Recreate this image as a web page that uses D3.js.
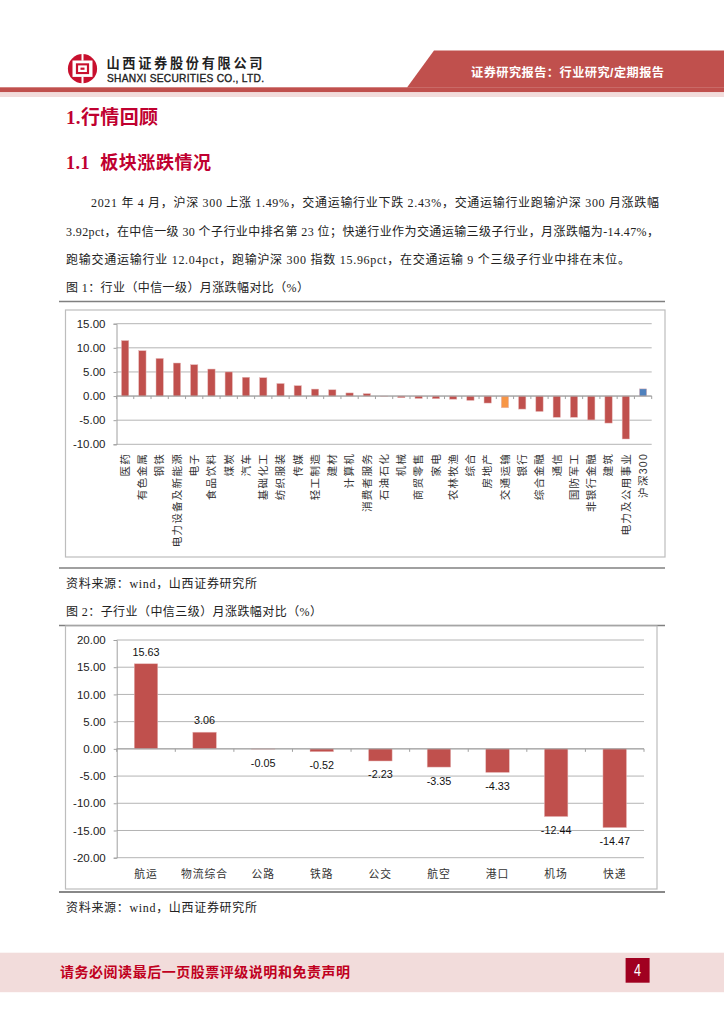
<!DOCTYPE html>
<html><head><meta charset="utf-8">
<script src="https://cdn.jsdelivr.net/npm/d3@7/dist/d3.min.js"></script>
<style>
html,body{margin:0;padding:0;background:#fff}
svg{display:block}
text{font-family:"Liberation Serif","Noto Sans CJK SC",serif}
.sans text,text.sans{font-family:"Liberation Sans","Noto Sans CJK SC",sans-serif}
</style></head><body>
<svg id="page" width="724" height="1024"></svg>
<script>
const industryNames = ["医药","有色金属","钢铁","电力设备及新能源","电子","食品饮料","煤炭","汽车","基础化工","纺织服装","传媒","轻工制造","建材","计算机","消费者服务","石油石化","机械","商贸零售","家电","农林牧渔","综合","房地产","交通运输","银行","综合金融","通信","国防军工","非银行金融","建筑","电力及公用事业","沪深300"];
const industryValues = [11.5,9.4,7.8,6.85,6.5,5.6,5.0,3.9,3.8,2.6,2.15,1.45,1.3,0.65,0.5,-0.05,-0.35,-0.5,-0.55,-0.65,-0.9,-1.45,-2.43,-2.7,-3.2,-4.4,-4.4,-4.95,-5.6,-8.9,1.49];
const industryTicks = [-10,-5,0,5,10,15];
const subNames = ["航运","物流综合","公路","铁路","公交","航空","港口","机场","快递"];
const subValues = [15.63,3.06,-0.05,-0.52,-2.23,-3.35,-4.33,-12.44,-14.47];
const subTicks = [-20,-15,-10,-5,0,5,10,15,20];
const bodyLines = ["2021 年 4 月，沪深 300 上涨 1.49%，交通运输行业下跌 2.43%，交通运输行业跑输沪深 300 月涨跌幅","3.92pct，在中信一级 30 个子行业中排名第 23 位；快递行业作为交通运输三级子行业，月涨跌幅为-14.47%，","跑输交通运输行业 12.04pct，跑输沪深 300 指数 15.96pct，在交通运输 9 个三级子行业中排在末位。"];

const RED="#c0504d", ORANGE="#f79646", BLUE="#4f81bd", TITLE="#c00030", LOGO="#c8102e";
const svg=d3.select("#page");
const fmt=v=>v.toFixed(2);

// ---- header
svg.append("rect").attr("x",0).attr("y",87.3).attr("width",724).attr("height",5).attr("fill",RED);
svg.append("rect").attr("x",0).attr("y",92.3).attr("width",724).attr("height",4.7).attr("fill","#f2dcdb");
svg.append("path").attr("d","M407,87.5 L434,50.5 H724 V87.5 Z").attr("fill",RED);
svg.append("text").attr("class","sans").attr("x",471).attr("y",77).attr("fill","#fff").attr("font-size",12.2).attr("font-weight",700).attr("textLength",193).attr("lengthAdjust","spacing").text("证券研究报告：行业研究/定期报告");
// logo
const logo=svg.append("g").attr("transform","translate(82.5,68.7)");
logo.append("circle").attr("r",14.6).attr("fill",LOGO);
logo.append("rect").attr("x",-10).attr("y",-8.2).attr("width",20).attr("height",16.4).attr("fill","#fff");
logo.append("rect").attr("x",-6.6).attr("y",-5.4).attr("width",13.2).attr("height",10.8).attr("fill",LOGO);
logo.append("rect").attr("x",-4.4).attr("y",-3.3).attr("width",8.8).attr("height",6.6).attr("fill","#fff");
logo.append("rect").attr("x",-2).attr("y",-1.1).attr("width",4).attr("height",2.2).attr("fill",LOGO);
logo.append("rect").attr("x",-1).attr("y",-15).attr("width",2).attr("height",7).attr("fill","#fff");
logo.append("rect").attr("x",-1).attr("y",8).attr("width",2).attr("height",7).attr("fill","#fff");
svg.append("text").attr("class","sans").attr("x",106.5).attr("y",68).attr("fill","#222").attr("font-size",13.2).attr("font-weight",700).attr("textLength",156).attr("lengthAdjust","spacing").text("山西证券股份有限公司");
svg.append("text").attr("class","sans").attr("x",107).attr("y",81.5).attr("fill","#222").attr("font-size",10.2).attr("stroke","#222").attr("stroke-width",.35).attr("textLength",157).text("SHANXI SECURITIES CO., LTD.");

// ---- headings and text
svg.append("text").attr("x",66).attr("y",124).attr("fill",TITLE).attr("font-size",19).attr("font-weight",700).attr("textLength",92).attr("lengthAdjust","spacing").text("1.行情回顾");
svg.append("text").attr("x",66).attr("y",169).attr("fill",TITLE).attr("font-size",18).attr("font-weight",700).attr("textLength",145).attr("xml:space","preserve").text("1.1  板块涨跌情况");
const bodyX=[91,66,66], bodyW=[568,593,564], bodyY=[206.5,236,263.5];
bodyLines.forEach((t,i)=>svg.append("text").attr("x",bodyX[i]).attr("y",bodyY[i]).attr("fill","#222").attr("font-size",12).attr("textLength",bodyW[i]).attr("lengthAdjust","spacing").text(t));
[["图 1：行业（中信一级）月涨跌幅对比（%）",66,292,243],["资料来源：wind，山西证券研究所",66,588,191],["图 2：子行业（中信三级）月涨跌幅对比（%）",66,616,256],["资料来源：wind，山西证券研究所",66,912,191]].forEach(c=>
  svg.append("text").attr("x",c[1]).attr("y",c[2]).attr("fill","#222").attr("font-size",12).attr("textLength",c[3]).attr("lengthAdjust","spacing").text(c[0]));
[[301.5,"#808080"],[568,"#808080"],[625.5,"#808080"],[892,"#606060"]].forEach(r=>
  svg.append("line").attr("x1",59).attr("x2",665).attr("y1",r[0]).attr("y2",r[0]).attr("stroke",r[1]).attr("stroke-width",1.3));

// ---- chart builder
function chart(o){
  const g=svg.append("g").attr("class","sans");
  g.append("rect").attr("x",o.box[0]).attr("y",o.box[1]).attr("width",o.box[2]-o.box[0]).attr("height",o.box[3]-o.box[1]).attr("fill","#fff").attr("stroke","#bdbdbd").attr("stroke-width",1.2);
  const x=d3.scaleBand().domain(o.names).range([o.left,o.right]);
  const y=d3.scaleLinear().domain(o.domain).range([o.bottom,o.top]);
  // grid
  g.append("g").selectAll("line").data(o.ticks).join("line")
    .attr("x1",o.left).attr("x2",o.right).attr("y1",d=>y(d)).attr("y2",d=>y(d)).attr("stroke","#b4b4b4").attr("stroke-width",1);
  // y axis
  const ya=g.append("g").attr("transform",`translate(${o.left},0)`).call(d3.axisLeft(y).tickValues(o.ticks).tickSize(3).tickPadding(8).tickFormat(fmt));
  ya.selectAll(".domain,line").attr("stroke","#a0a0a0");
  ya.selectAll("text").attr("font-size",o.tickFont).attr("fill","#222").attr("font-family","'Liberation Sans',sans-serif");
  // bars
  g.append("g").selectAll("rect").data(o.names.map((n,i)=>({n,v:o.values[i]}))).join("rect")
    .attr("x",d=>x(d.n)+(x.bandwidth()-o.barW)/2).attr("width",o.barW)
    .attr("y",d=>y(Math.max(0,d.v))).attr("height",d=>Math.abs(y(d.v)-y(0)))
    .attr("fill",d=>o.color(d.n)).attr("stroke","#e6b8b7").attr("stroke-width",.5);
  // x axis line and ticks at band edges
  g.append("line").attr("x1",o.left).attr("x2",o.right).attr("y1",y(0)).attr("y2",y(0)).attr("stroke","#a0a0a0");
  g.append("g").selectAll("line").data(o.names.concat([null])).join("line")
    .attr("x1",d=>d===null?o.right:x(d)).attr("x2",d=>d===null?o.right:x(d))
    .attr("y1",y(0)).attr("y2",y(0)+3).attr("stroke","#a0a0a0");
  return {g,x,y};
}

// chart 1
const c1=chart({box:[65.5,310,665,557],left:116.5,right:651.7,top:323.7,bottom:444.3,domain:[-10,15],ticks:industryTicks,
  names:industryNames,values:industryValues,barW:7.3,tickFont:11.5,
  color:n=>n==="交通运输"?ORANGE:n==="沪深300"?BLUE:RED});
c1.g.append("g").selectAll("text").data(industryNames).join("text")
  .attr("transform",d=>`translate(${c1.x(d)+c1.x.bandwidth()/2+3.8},453) rotate(-90)`)
  .attr("text-anchor","end").attr("fill","#333").attr("font-size",10.6).attr("letter-spacing",1.2).text(d=>d);

// chart 2
const c2=chart({box:[65.5,626,657,889],left:116.7,right:644,top:640,bottom:857.7,domain:[-20,20],ticks:subTicks,
  names:subNames,values:subValues,barW:23.5,tickFont:11.5,color:()=>RED});
c2.g.append("g").selectAll("text").data(subNames).join("text")
  .attr("x",d=>c2.x(d)+c2.x.bandwidth()/2).attr("y",878).attr("text-anchor","middle")
  .attr("fill","#333").attr("font-size",10.8).attr("letter-spacing",1).text(d=>d);
c2.g.append("g").selectAll("text").data(subNames.map((n,i)=>({n,v:subValues[i]}))).join("text")
  .attr("x",d=>c2.x(d.n)+c2.x.bandwidth()/2).attr("y",d=>c2.y(d.v)+(d.v>=0?-8:17.5))
  .attr("text-anchor","middle").attr("fill","#111").attr("font-size",10.8).text(d=>fmt(d.v));

// ---- footer
svg.append("rect").attr("x",0).attr("y",952.7).attr("width",724).attr("height",39.5).attr("fill","#f2dcdb");
svg.append("text").attr("class","sans").attr("x",60).attr("y",977).attr("fill","#c00020").attr("font-size",14).attr("font-weight",700).attr("textLength",290).attr("lengthAdjust","spacing").text("请务必阅读最后一页股票评级说明和免责声明");
svg.append("rect").attr("x",625.6).attr("y",958).attr("width",24).attr("height",24.7).attr("fill","#a00020");
svg.append("text").attr("class","sans").attr("x",634).attr("y",976).attr("fill","#fff").attr("font-size",16).attr("textLength",7).attr("lengthAdjust","spacingAndGlyphs").text("4");
</script>
</body></html>
